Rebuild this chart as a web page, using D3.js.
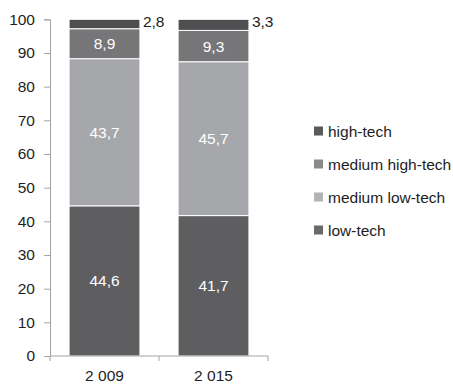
<!DOCTYPE html>
<html>
<head>
<meta charset="utf-8">
<script src="https://cdn.jsdelivr.net/npm/d3@7"></script>
<style>
  html, body { margin: 0; padding: 0; background: #fff; }
  svg { display: block; font-family: "Liberation Sans", Arial, sans-serif; }
</style>
</head>
<body>
<svg id="chart" width="453" height="384"></svg>
<script>
// Industry structure by technology intensity, share in %
const years = ["2 009", "2 015"];
const seriesNames = ["low-tech", "medium low-tech", "medium high-tech", "high-tech"];
const lowTech = [44.6, 41.7];
const mediumLowTech = [43.7, 45.7];
const mediumHighTech = [8.9, 9.3];
const highTech = [2.8, 3.3];
const yTicks = [0, 10, 20, 30, 40, 50, 60, 70, 80, 90, 100];
const legendOrder = ["high-tech", "medium high-tech", "medium low-tech", "low-tech"];

const seriesValues = [lowTech, mediumLowTech, mediumHighTech, highTech];
const colors = {
  "low-tech": "#5e5e61",
  "medium low-tech": "#a6a7aa",
  "medium high-tech": "#767679",
  "high-tech": "#4f4f52"
};
const legendColors = {
  "high-tech": "#59595b",
  "medium high-tech": "#8a8a8c",
  "medium low-tech": "#b3b3b5",
  "low-tech": "#6a6a6c"
};

const rows = years.map((y, i) => {
  const r = { year: y };
  seriesNames.forEach((s, k) => { r[s] = seriesValues[k][i]; });
  return r;
});

const svg = d3.select("#chart");
const x = d3.scaleBand().domain(years).range([50, 268]).paddingInner(0.35).paddingOuter(0.175);
const y = d3.scaleLinear().domain([0, 100]).range([356, 19.3]);

const stack = d3.stack().keys(seriesNames)(rows);

const axisColor = "#a3a3a3";
const textColor = "#1e1e1e";

// stacked bars
const layers = svg.append("g").selectAll("g").data(stack).join("g")
  .attr("fill", d => colors[d.key]);
layers.selectAll("rect").data(d => d.map(v => ({ key: d.key, v }))).join("rect")
  .attr("x", d => x(d.v.data.year))
  .attr("width", x.bandwidth())
  .attr("y", d => y(d.v[1]))
  .attr("height", d => y(d.v[0]) - y(d.v[1]))
  .attr("stroke", "#ffffff")
  .attr("stroke-width", 1);

// value labels: inside the segment, the top segment's value beside the bar
stack.forEach(layer => {
  layer.forEach(v => {
    const val = v[1] - v[0];
    const txt = val.toFixed(1).replace(".", ",");
    if (layer.key === "high-tech") {
      svg.append("text")
        .attr("x", x(v.data.year) + x.bandwidth() + 3)
        .attr("y", y(v[1]) + 8)
        .attr("font-size", 15.5)
        .attr("fill", textColor)
        .text(txt);
    } else {
      svg.append("text")
        .attr("x", x(v.data.year) + x.bandwidth() / 2)
        .attr("y", (y(v[0]) + y(v[1])) / 2 + 5.5)
        .attr("text-anchor", "middle")
        .attr("font-size", 15.5)
        .attr("fill", "#ffffff")
        .text(txt);
    }
  });
});

// y axis
const yAxis = svg.append("g").attr("transform", "translate(50,0)")
  .call(d3.axisLeft(y).tickValues(yTicks).tickSize(6).tickPadding(9));
yAxis.select(".domain").attr("stroke", axisColor);
yAxis.selectAll(".tick line").attr("stroke", axisColor);
yAxis.selectAll(".tick text").attr("font-size", 15.5).attr("fill", textColor)
  .attr("font-family", "Liberation Sans, Arial, sans-serif");

// x axis with ticks at the category boundaries
const xAxisG = svg.append("g").attr("transform", "translate(0,356)");
xAxisG.append("line").attr("x1", 50).attr("x2", 268).attr("y1", 0).attr("y2", 0).attr("stroke", axisColor);
const bounds = [x.range()[0], (x(years[0]) + x.bandwidth() + x(years[1])) / 2, x.range()[1]];
bounds.forEach(px => {
  xAxisG.append("line").attr("x1", px).attr("x2", px).attr("y1", 0).attr("y2", 5).attr("stroke", axisColor);
});
xAxisG.selectAll("text.cat").data(years).join("text")
  .attr("class", "cat")
  .attr("x", d => x(d) + x.bandwidth() / 2)
  .attr("y", 24.5)
  .attr("text-anchor", "middle")
  .attr("font-size", 15.5)
  .attr("fill", textColor)
  .text(d => d);

// legend
const lg = svg.append("g");
legendOrder.forEach((name, i) => {
  const cy = 131 + i * 33;
  lg.append("rect").attr("x", 314).attr("y", cy - 4.5).attr("width", 9).attr("height", 9)
    .attr("fill", legendColors[name]);
  lg.append("text").attr("x", 328).attr("y", cy + 5.5)
    .attr("font-size", 15.5).attr("fill", textColor).text(name);
});
</script>
</body>
</html>
